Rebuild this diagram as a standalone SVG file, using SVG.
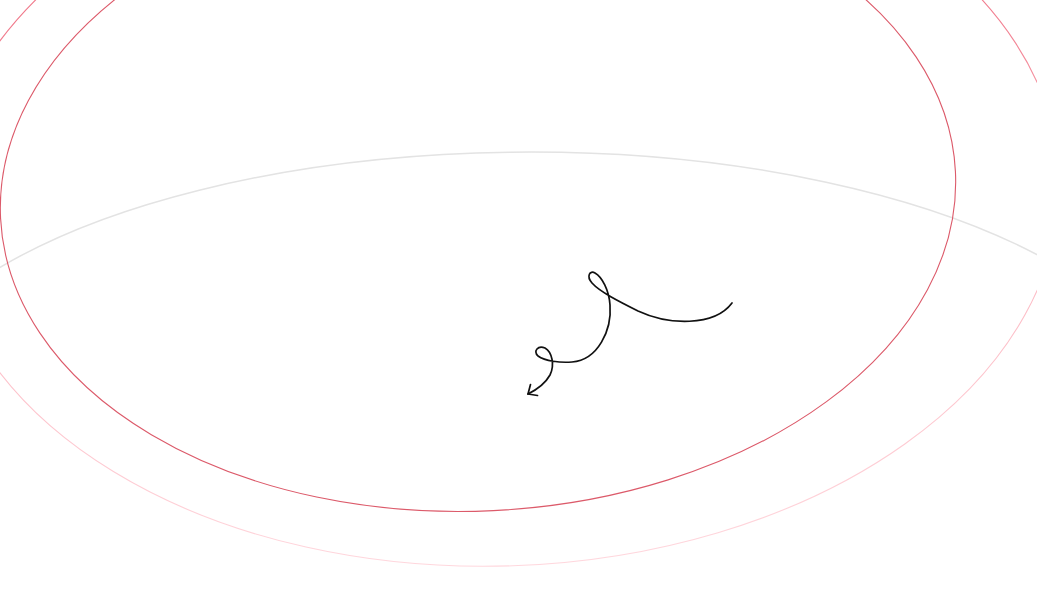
<svg xmlns="http://www.w3.org/2000/svg" width="1037" height="591" viewBox="0 0 1037 591">
<defs>
<linearGradient id="pinkGrad" gradientUnits="userSpaceOnUse" x1="0" y1="0" x2="0" y2="570">
<stop offset="0" stop-color="#f0788a"/>
<stop offset="0.5" stop-color="#fcb8c2"/>
<stop offset="1" stop-color="#ffd8de"/>
</linearGradient>
</defs>
<style>
.ring{fill:none}
.gray{stroke:#e3e3e3;stroke-width:1.5}
.red{stroke:#dc5a6a;stroke-width:1.1}
.pink{stroke:url(#pinkGrad);stroke-width:1.1}
.ink{fill:none;stroke:#111;stroke-width:1.7;stroke-linecap:round;stroke-linejoin:round}
</style>
<rect width="1037" height="591" fill="#ffffff"/>
<g id="gray-orbit">
<path class="ring gray" d="M -10 273.5 A 650 274 0 0 1 1047 260"/>
</g>
<g id="outer-pink-ring">
<ellipse class="ring pink" cx="500" cy="197" rx="560" ry="369" transform="rotate(-2 500 197)"/>
</g>
<g id="red-ring">
<ellipse class="ring red" cx="478" cy="195" rx="478" ry="316" transform="rotate(-2.8 478 195)"/>
</g>
<g id="connectors">
<path class="ink" d="M 732 303 C 714 327, 668 325, 638 311 C 620 302, 600 292, 592 283 C 586 276, 590 270, 595 273 C 602 277, 609 290, 610 305 C 612 330, 598 360, 572 362 C 560 363, 545 361, 538 356 C 533 351, 538 345, 545 348 C 552 352, 555 365, 550 375 C 545 384, 536 390, 528 394"/>
<path class="ink" d="M 530.5 384.5 L 528 394 L 537.5 395.5"/>
</g>
</svg>
